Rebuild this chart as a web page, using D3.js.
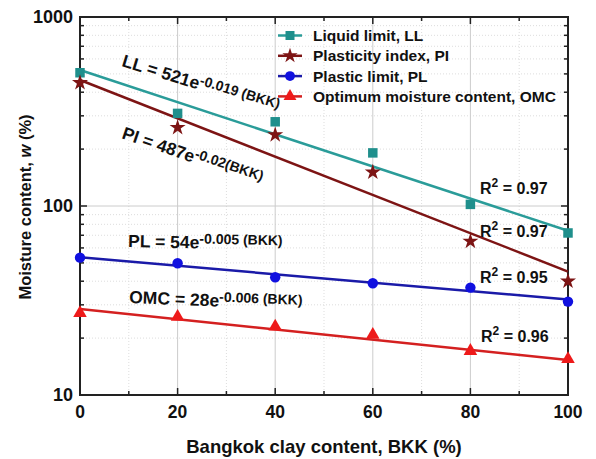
<!DOCTYPE html>
<html>
<head>
<meta charset="utf-8">
<script src="https://cdn.jsdelivr.net/npm/d3@7"></script>
<style>
body { margin: 0; background: #fff; }
text { font-family: Arial, "Liberation Sans", sans-serif; font-weight: bold; fill: #111; }
</style>
</head>
<body>
<svg id="chart" width="596" height="459"></svg>
<script>
// data
var bkk = [0, 20, 40, 60, 80, 100];
var liquidLimit = [507, 309, 279, 191, 102, 72];
var plasticityIndex = [449, 260, 238, 151, 65, 40];
var plasticLimit = [53.3, 49.8, 42, 39, 37, 31.2];
var omc = [27.1, 25.9, 23, 20.8, 17.1, 15.5];

// fitted lines, value at BKK = 0 and BKK = 100
var fitLL = [524, 74];
var fitPI = [464, 45];
var fitPL = [53.5, 32];
var fitOMC = [28.5, 15.3];

var seriesNames = ["Liquid limit, LL", "Plasticity index, PI", "Plastic limit, PL", "Optimum moisture content, OMC"];
var xTicks = [0, 20, 40, 60, 80, 100];
var yTicks = [10, 100, 1000];

var svg = d3.select("#chart");
var pLeft = 80, pRight = 568, pTop = 17, pBottom = 395;

var x = d3.scaleLinear().domain([0, 100]).range([pLeft, pRight]);
var y = d3.scaleLog().domain([10, 1000]).range([pBottom, pTop]);

var series = [
    {name: seriesNames[0], vals: liquidLimit, fit: fitLL, color: "#1f8f8c", line: "#2a9c99", sym: d3.symbolSquare, size: 90},
    {name: seriesNames[1], vals: plasticityIndex, fit: fitPI, color: "#7d1414", line: "#7d1414", sym: d3.symbolStar, size: 80},
    {name: seriesNames[2], vals: plasticLimit, fit: fitPL, color: "#1010e0", line: "#1a1aa8", sym: d3.symbolCircle, size: 85},
    {name: seriesNames[3], vals: omc, fit: fitOMC, color: "#ee1a1a", line: "#d42020", sym: d3.symbolTriangle, size: 80}
];

// grid
var minorY = [];
[10, 100].forEach(function(d) {
    for (var k = 2; k <= 9; k++) minorY.push(d * k);
});
svg.append("g").selectAll("line").data(minorY).enter().append("line")
    .attr("x1", pLeft).attr("x2", pRight)
    .attr("y1", function(d) { return y(d); }).attr("y2", function(d) { return y(d); })
    .attr("stroke", "#ddd").attr("stroke-dasharray", "1,2");
svg.append("g").selectAll("line").data([10, 30, 50, 70, 90]).enter().append("line")
    .attr("x1", function(d) { return x(d); }).attr("x2", function(d) { return x(d); })
    .attr("y1", pTop).attr("y2", pBottom)
    .attr("stroke", "#ddd").attr("stroke-dasharray", "1,2");
svg.append("g").selectAll("line").data([100]).enter().append("line")
    .attr("x1", pLeft).attr("x2", pRight)
    .attr("y1", function(d) { return y(d); }).attr("y2", function(d) { return y(d); })
    .attr("stroke", "#ccc");
svg.append("g").selectAll("line").data([20, 40, 60, 80]).enter().append("line")
    .attr("x1", function(d) { return x(d); }).attr("x2", function(d) { return x(d); })
    .attr("y1", pTop).attr("y2", pBottom)
    .attr("stroke", "#ccc");

// axes with inward ticks
var xMinor = d3.range(0, 101, 10);
var yAll = minorY.concat(yTicks);
function tickSet(g, vals, isX, pos, dir, len) {
    g.selectAll(null).data(vals).enter().append("line")
        .attr("x1", function(d) { return isX ? x(d) : pos; })
        .attr("x2", function(d) { return isX ? x(d) : pos + dir * len(d); })
        .attr("y1", function(d) { return isX ? pos : y(d); })
        .attr("y2", function(d) { return isX ? pos + dir * len(d) : y(d); })
        .attr("stroke", "#222").attr("stroke-width", 1.5);
}
var ticks = svg.append("g");
tickSet(ticks, xMinor, true, pBottom, -1, function(d) { return d % 20 === 0 ? 7 : 4; });
tickSet(ticks, xMinor, true, pTop, 1, function(d) { return d % 20 === 0 ? 7 : 4; });
tickSet(ticks, yAll, false, pLeft, 1, function(d) { return yTicks.indexOf(d) >= 0 ? 7 : 4; });
tickSet(ticks, yAll, false, pRight, -1, function(d) { return yTicks.indexOf(d) >= 0 ? 7 : 4; });

svg.append("rect").attr("x", pLeft).attr("y", pTop)
    .attr("width", pRight - pLeft).attr("height", pBottom - pTop)
    .attr("fill", "none").attr("stroke", "#222").attr("stroke-width", 2);

svg.append("g").selectAll("text").data(xTicks).enter().append("text")
    .attr("x", function(d) { return x(d); }).attr("y", 418)
    .attr("text-anchor", "middle").attr("font-size", 17.5)
    .text(function(d) { return d; });
svg.append("g").selectAll("text").data(yTicks).enter().append("text")
    .attr("x", pLeft - 7).attr("y", function(d) { return y(d) + 6; })
    .attr("text-anchor", "end").attr("font-size", 18)
    .text(function(d) { return d; });

svg.append("text").attr("x", 324).attr("y", 453).attr("text-anchor", "middle")
    .attr("font-size", 18.5).text("Bangkok clay content, BKK (%)");
var yt = svg.append("text").attr("transform", "translate(31,207) rotate(-90)")
    .attr("text-anchor", "middle").attr("font-size", 16.5);
yt.append("tspan").text("Moisture content, ");
yt.append("tspan").attr("font-style", "italic").text("w");
yt.append("tspan").text(" (%)");

// fit lines
series.forEach(function(s) {
    svg.append("line")
        .attr("x1", x(0)).attr("y1", y(s.fit[0]))
        .attr("x2", x(100)).attr("y2", y(s.fit[1]))
        .attr("stroke", s.line).attr("stroke-width", 2.5);
});

// points
series.forEach(function(s) {
    svg.append("g").selectAll("path").data(s.vals).enter().append("path")
        .attr("d", d3.symbol().type(s.sym).size(s.size))
        .attr("transform", function(d, i) { return "translate(" + x(bkk[i]) + "," + y(d) + ")"; })
        .attr("fill", s.color);
});

// legend
var lg = svg.append("g").selectAll("g").data(series).enter().append("g")
    .attr("transform", function(d, i) { return "translate(278," + (35.5 + i * 20.3) + ")"; });
lg.append("line").attr("x1", 0).attr("x2", 24).attr("stroke", function(d) { return d.line; }).attr("stroke-width", 2.5);
lg.append("path").attr("d", function(d) { return d3.symbol().type(d.sym).size(d.size * 0.9)(); })
    .attr("transform", "translate(12,0)").attr("fill", function(d) { return d.color; });
lg.append("text").attr("x", 35).attr("y", 5.5).attr("font-size", 15.5)
    .text(function(d) { return d.name; });

// equations
function equation(tx, ty, ang, base, sup, tail) {
    var t = svg.append("text").attr("transform", "translate(" + tx + "," + ty + ") rotate(" + ang + ")")
        .attr("font-size", 17.5);
    t.append("tspan").text(base);
    t.append("tspan").attr("dy", -5).attr("font-size", 14).text(sup);
    t.append("tspan").attr("font-size", 14).text(tail);
}
equation(121, 66, 17, "LL = 521e", "-0.019", " (BKK)");
equation(121, 138, 19, "PI = 487e", "-0.02", "(BKK)");
equation(128, 247, 1.2, "PL = 54e", "-0.005", " (BKK)");
equation(129, 303, 2.3, "OMC = 28e", "-0.006", " (BKK)");

function rsq(tx, ty, val) {
    var t = svg.append("text").attr("x", tx).attr("y", ty).attr("font-size", 16);
    t.append("tspan").text("R");
    t.append("tspan").attr("dy", -7).attr("font-size", 12).text("2");
    t.append("tspan").attr("dy", 7).text(" = " + val);
}
rsq(480, 194, "0.97");
rsq(480, 237, "0.97");
rsq(480, 283, "0.95");
rsq(481, 342, "0.96");
</script>
</body>
</html>
